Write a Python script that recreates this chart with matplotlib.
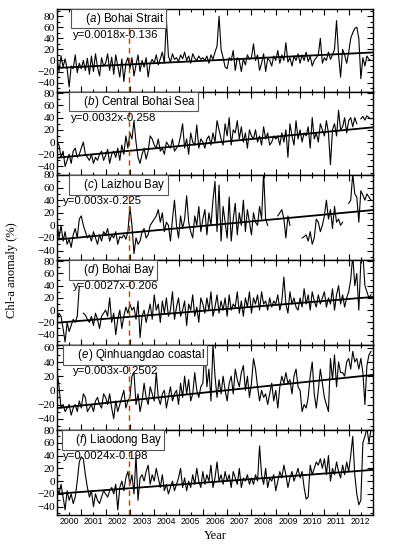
import numpy as np
import matplotlib
matplotlib.use("Agg")
import matplotlib.pyplot as plt
from matplotlib.ticker import MultipleLocator, FixedLocator, NullFormatter, FixedFormatter

nan = np.nan

plt.rcParams["mathtext.fontset"] = "custom"
plt.rcParams["mathtext.it"] = "Liberation Sans:italic"
plt.rcParams["mathtext.rm"] = "Liberation Sans"

# monthly Chl-a anomaly (%), Jan 2000 - Dec 2012
bohai_strait = [
    5, -20, 8, -12, 3, -15, -48, -10, -15, 10, -22, -5,
    -15, 0, -18, 4, -25, 8, -20, 12, -12, -28, 5, -10,
    -5, 12, -18, 6, -25, 10, -10, -30, 3, -38, -5, 5,
    -15, 5, -28, -8, 10, -20, 0, -12, 5, -30, -5, 2,
    -5, 10, -8, 3, 15, -5, 74, 8, -3, 12, 2, 5,
    -2, 10, 3, 15, 0, 8, -5, 12, 4, 0, 8, 2,
    5, 0, 8, -5, 10, 2, 15, 26, 80, 20, 5, -12,
    -15, 5, 0, 18, -18, 5, 0, -20, 3, -8, 10, 2,
    5, 30, 0, 10, -18, -5, 12, -20, 3, 0, -10, 8,
    0, 18, -5, 10, 0, 32, -3, 5, -10, 8, 0, 12,
    -5, 10, 0, 15, -2, 8, -10, 0, 5, 10, 40, -5,
    5, 0, 15, 2, 10, 20, 72, 10, -30, 20, 10, -5,
    15, 40, 50, 58, 60, 40, -33, 5, -10, 8, 2, 0,
]
central_bohai = [
    0, -5, -25, -15, -40, -30, -20, -35, -15, -10, -25, -20,
    -10, 0, -20, -25, -30, -20, -35, -25, -30, -20, -15, -30,
    -22, -12, -35, -20, -15, -25, -10, -30, -5, -20, 10, -10,
    15, 5, 35, 0, -25, -35, -20, -10, -28, -15, 10, 5,
    -5, -10, 5, -15, -10, -20, 0, -5, -10, 5, -15, -10,
    -5, 10, 30, -10, 5, -20, 15, 0, -5, 28, -10, 5,
    0, -10, 5, 10, -5, 15, 0, 35, 20, 5, -5, 30,
    10, 40, -5, 20, 15, 35, 5, 25, 0, 15, -10, 20,
    10, 5, 20, 0, 10, -5, 25, 5, 15, -5, 0, 10,
    5, 10, -5, 15, 0, 20, -25, 30, 10, -5, 35, 5,
    20, 0, 15, 10, 25, -10, 40, 5, 15, 0, 30, 20,
    10, 35, 15, -37, 20, 30, 10, 52, 20, 25, 40, 15,
    35, 40, 25, 40, 30, nan, 38, 42, 36, 43, 40, 38,
]
laizhou_bay = [
    5, -20, 0, -25, -10, -30, -22, -35, -15, -5, -20, 10,
    15, 0, -10, -20, -15, -25, -10, -20, -30, -15, -25, -10,
    -15, -5, -25, -15, -20, -10, -30, -18, -20, -15, -22, -10,
    30, 0, -45, -20, -30, -25, -10, -5, -20, -15, 0, 5,
    10, 15, 25, 5, 20, -10, 5, 0, -25, 10, 40, 0,
    -20, 15, -5, 10, 47, 5, -10, -20, 15, 0, 30, -10,
    10, 25, -15, 20, 0, 40, 70, -10, 64, -25, 30, 5,
    -20, 45, -25, 10, 35, -15, 20, 0, 40, -10, 25, 5,
    -15, 20, 5, 0, 30, 10, 85, 10, 0, nan, nan, nan,
    nan, 15, 20, 25, 10, -20, 15, 0, nan, nan, nan, nan,
    nan, -20, -18, -15, -25, -10, -30, -20, 10, 5, -10, 0,
    15, 40, 10, 25, -5, 30, 5, 10, 0, 5, nan, nan,
    35, 40, 82, 50, 45, 5, 55, 48, 40, 50, 45, 40,
]
bohai_bay = [
    -18, -5, -10, -30, -52, -20, -35, -25, -15, -20, -10, 39,
    nan, -5, -8, -15, -20, -10, -25, -5, -15, -30, -10, -5,
    0, -10, 20, -20, -5, -40, -15, 0, -30, -10, 5, -5,
    10, 0, 5, -15, 15, -45, -10, 0, -20, -5, 10, -15,
    25, 0, 10, -20, 15, -5, 20, -10, 0, 30, -15, 5,
    20, -10, 0, 15, -25, 10, 0, 25, -10, 5, -20, 20,
    10, -5, 20, 0, 30, -10, 5, 25, -5, 15, 0, 20,
    -10, 25, 0, 10, 5, 30, -5, 15, -10, 20, 5, 30,
    -5, 20, 10, 25, 0, 30, 10, 15, 0, 20, 5, 15,
    10, 25, 0, 15, 54, 10, -5, 30, 10, 20, 5, 0,
    20, 5, 35, 10, 25, 0, 30, 15, 5, 25, 10, 20,
    30, 5, 20, 10, 35, 0, 25, 40, 10, 25, 5, 20,
    30, 50, 90, 40, 60, 0, 80, 92, 40, 30, 20, 25,
]
qinhuangdao = [
    28, 5, -25, -20, -30, -25, -20, -35, -25, -20, -30, -15,
    -25, -5, -10, -30, -25, -20, -30, -15, -10, -20, -25, -5,
    -10, -20, -5, -25, -40, -15, -30, -20, -10, 0, -25, -15,
    -10, 20, 25, -20, -5, -30, -15, 10, -10, -20, 5, -5,
    -15, 25, -10, -20, -5, 0, -25, -10, 5, -15, -5, 0,
    -20, 10, -10, 20, -5, 15, -15, -5, 25, 0, -10, 5,
    10, 60, 5, 30, -15, 65, 20, -10, 15, -5, 20, 0,
    -15, 10, 20, -5, 30, 15, 5, 25, 35, 0, 20, -10,
    10, 45, 30, 5, -15, 0, -10, -5, -20, -5, 10, -15,
    0, -25, 5, 20, 10, 25, 10, 15, -5, 20, 30, 5,
    0, -30, -20, -25, -10, 20, 40, -5, -25, 0, 30, 10,
    -10, -20, -30, 45, 15, 50, 5, 40, 25, 25, 20, 40,
    45, 30, 55, 40, 45, 30, 45, 25, -20, 35, 50, 55,
]
liaodong_bay = [
    -10, -20, -5, -25, -45, -15, -30, -20, -35, -25, 0, 30,
    38, 35, 10, -10, -25, -15, -40, -20, -30, -35, -25, -15,
    -20, -25, -15, -10, -20, -5, -45, -10, 0, -15, 5, 15,
    -5, 10, -20, 40, -30, 5, 10, 0, 15, 25, -5, 10,
    0, 20, 5, -10, 10, -15, -5, -20, -10, 0, -15, -5,
    5, 20, -10, 5, -15, 0, -10, 10, -5, 20, 0, -10,
    15, -5, 10, 0, 25, -10, 5, 30, 0, 10, -5, 15,
    0, 10, -10, 15, 5, -5, 20, -10, 5, 0, 10, -5,
    5, -5, 10, 0, 55, 10, -5, 20, -10, 5, 0, 10,
    -15, 0, 15, 5, 25, 10, -10, 5, 15, 0, 10, 20,
    5, 15, -10, -28, -25, 25, 10, 20, 30, 25, 35, 20,
    35, 10, 40, 0, 20, 10, 30, 15, 5, 25, 10, 30,
    15, 40, 70, 10, -20, -37, -30, 60, 70, 83, 60, 80,
]

series = [bohai_strait, central_bohai, laizhou_bay, bohai_bay, qinhuangdao, liaodong_bay]
letters = ["a", "b", "c", "d", "e", "f"]
names = ["Bohai Strait", "Central Bohai Sea", "Laizhou Bay", "Bohai Bay",
         "Qinhuangdao coastal", "Liaodong Bay"]
eq_text = ["y=0.0018x-0.136", "y=0.0032x-0.258", "y=0.003x-0.225",
           "y=0.0027x-0.206", "y=0.003x-0.2502", "y=0.0024x-0.198"]
slopes = [0.0018, 0.0032, 0.003, 0.0027, 0.003, 0.0024]
intercepts = [-0.136, -0.258, -0.225, -0.206, -0.2502, -0.198]
ylims = [(-57, 93), (-54, 82), (-55, 80), (-57, 82), (-56, 64), (-53, 80)]
years = list(range(2000, 2013))
break_year = 2002.96

W, H = 396, 550
panel_px = [(9, 92), (92, 175), (175, 260), (260, 345), (345, 430), (430, 515)]
eq_x = [0.05, 0.045, 0.02, 0.05, 0.05, 0.02]
box_x = [0.05, 0.045, 0.045, 0.045, 0.025, 0.02]

fig = plt.figure(figsize=(W / 100, H / 100), dpi=100)
t = 2000 + np.arange(156) / 12.0
serif = "Liberation Serif"
sans = "Liberation Sans"

for k in range(6):
    top, bot = panel_px[k]
    ax = fig.add_axes([57 / W, 1 - bot / H, 316 / W, (bot - top) / H])
    ax.plot(t, series[k], color="black", lw=0.8)
    # linear trend from the printed regression (x = month index, y = fraction)
    m = np.arange(0, 157)
    ax.plot(2000 + m / 12.0, 100 * (slopes[k] * m + intercepts[k]), color="black", lw=1.3)
    ax.axvline(break_year, color="#c0392b", ls=(0, (4, 3)), lw=1.0)

    ax.set_xlim(2000, 2013)
    ax.set_ylim(*ylims[k])
    ax.yaxis.set_major_locator(MultipleLocator(20))
    ax.yaxis.set_minor_locator(MultipleLocator(10))
    ax.xaxis.set_major_locator(MultipleLocator(1))
    ax.xaxis.set_minor_locator(FixedLocator([y + 0.5 for y in years]))
    ax.xaxis.set_major_formatter(NullFormatter())
    if k == 5:
        ax.xaxis.set_minor_formatter(FixedFormatter([str(y) for y in years]))
    else:
        ax.xaxis.set_minor_formatter(NullFormatter())
    ax.tick_params(which="both", direction="in", top=True, right=True)
    ax.tick_params(which="major", length=4, width=0.8)
    ax.tick_params(which="minor", length=2.5, width=0.8)
    ax.tick_params(axis="x", which="minor", labelsize=6.3, pad=1.5)
    ax.tick_params(axis="y", which="major", labelsize=8.2, pad=1.5)
    for lab in ax.get_yticklabels():
        lab.set_fontfamily(serif)
    for lab in ax.get_xticklabels(minor=True):
        lab.set_fontfamily(sans)
    for s in ax.spines.values():
        s.set_linewidth(1.0)

    title = "    ($\\mathit{%s}$) %s" % (letters[k], names[k])
    ax.text(box_x[k], 0.885, title, transform=ax.transAxes, fontsize=8.3,
            family=sans, va="center", ha="left",
            bbox=dict(boxstyle="square,pad=0.15", fc="white", ec="#555555", lw=0.8))
    ax.text(eq_x[k], 0.69, eq_text[k], transform=ax.transAxes, fontsize=8.2,
            family=sans, va="center", ha="left")

fig.text(12 / W, 1 - 270 / H, "Chl-a anomaly (%)", rotation=90, family=serif,
         fontsize=9, va="center", ha="center")
fig.text(215 / W, 1 - 536 / H, "Year", family=serif, fontsize=9, va="center", ha="center")

fig.savefig("out.png", dpi=100)
